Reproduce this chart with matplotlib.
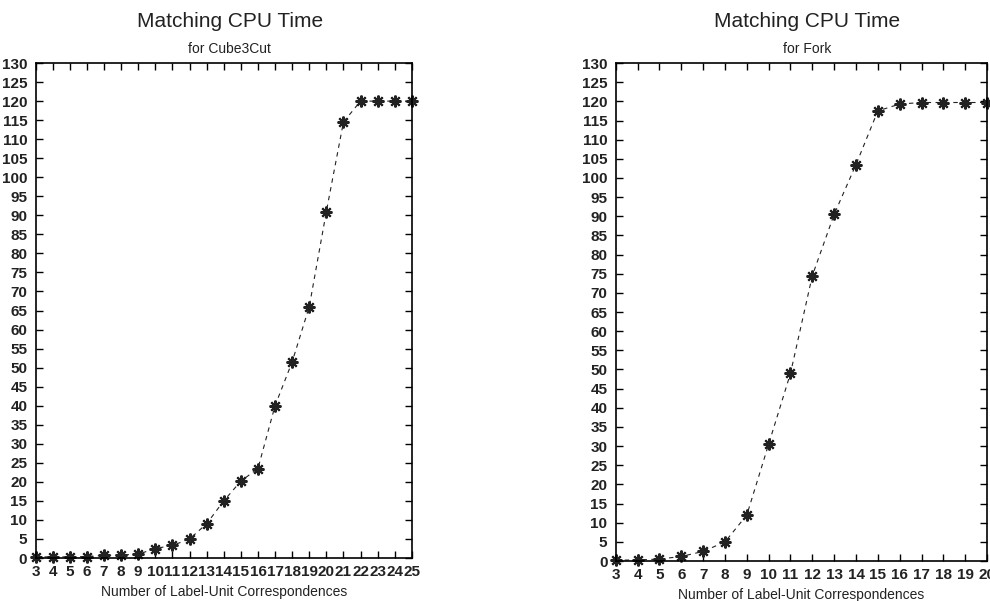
import matplotlib
matplotlib.use('Agg')
import matplotlib.pyplot as plt
from matplotlib.ticker import MultipleLocator

plt.rcParams['font.family'] = ['Liberation Sans', 'DejaVu Sans']

# Cube3Cut
cube_x = list(range(3, 26))
cube_t = [0.3, 0.3, 0.3, 0.4, 0.7, 0.8, 1.0, 2.5, 3.3, 5.0, 9.0, 15.0, 20.2,
          23.5, 40.0, 51.5, 66.0, 91.0, 114.5, 120.0, 120.0, 120.0, 120.0]

# Fork
fork_x = list(range(3, 21))
fork_t = [0.2, 0.3, 0.5, 1.2, 2.5, 5.0, 12.0, 30.5, 49.0, 74.5, 90.5, 103.5,
          117.5, 119.3, 119.7, 119.7, 119.7, 119.7]

panels = [
    ('for Cube3Cut', cube_x, cube_t, [0.036, 0.0715, 0.380, 0.8236]),
    ('for Fork', fork_x, fork_t, [0.622, 0.0665, 0.375, 0.8286]),
]

tick_font = ['Liberation Sans Narrow', 'Liberation Sans', 'DejaVu Sans']

fig = plt.figure(figsize=(9.9, 6.01), dpi=100)

for sub, x, t, pos in panels:
    ax = fig.add_axes(pos)
    ax.plot(x, t, color='#222222', linestyle=(0, (4, 4)), linewidth=0.8,
            marker=(8, 2, 0), markersize=8.5, markeredgewidth=1.5,
            markeredgecolor='#222222', clip_on=False)
    ax.set_xlim(x[0], x[-1])
    ax.set_ylim(0, 130)
    ax.set_xticks(x)
    ax.yaxis.set_major_locator(MultipleLocator(5))
    ax.tick_params(direction='in', length=5, width=1, top=True, right=True)
    ax.tick_params(axis='x', pad=5)
    ax.tick_params(axis='y', pad=6)
    for lab in ax.get_xticklabels() + ax.get_yticklabels():
        lab.set_family(tick_font)
        lab.set_fontsize(11)
        lab.set_fontweight('bold')
        lab.set_color('#222222')
    for sp in ax.spines.values():
        sp.set_linewidth(1.2)
    ax.set_xlabel('Number of Label-Unit Correspondences', fontsize=10,
                  labelpad=4, color='#222222')
    cx = pos[0] + pos[2] / 2 + 0.006
    fig.text(cx, 0.965, 'Matching CPU Time', ha='center', va='center',
             fontsize=15, color='#222222')
    fig.text(cx, 0.918, sub, ha='center', va='center', fontsize=10,
             color='#222222')

fig.savefig('out.png', dpi=100)
